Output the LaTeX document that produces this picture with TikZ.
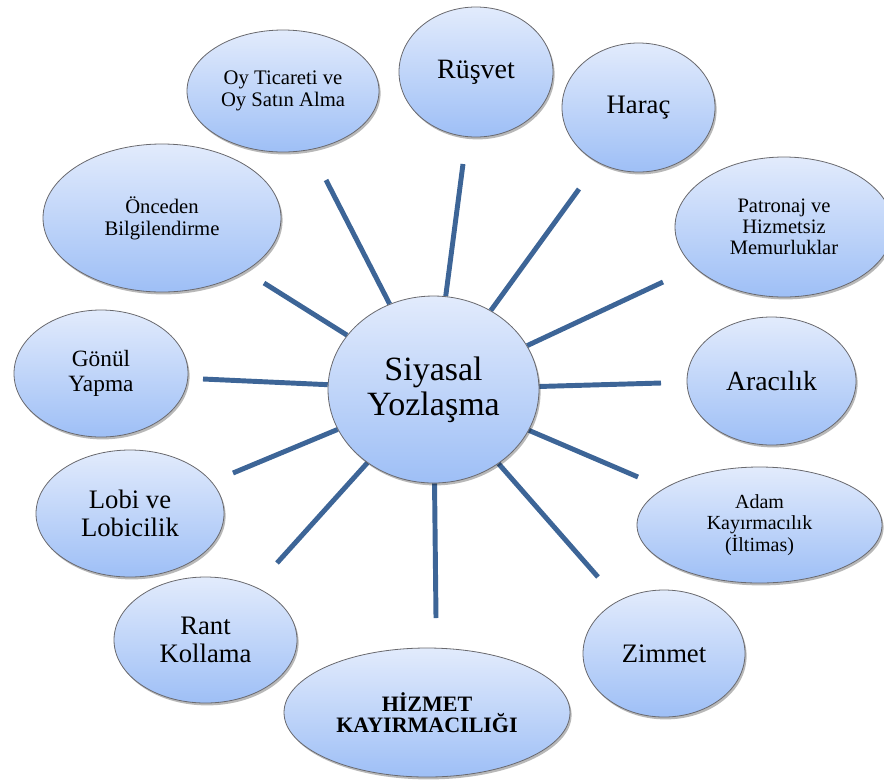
\documentclass[tikz,border=0pt]{standalone}
\usepackage{fontspec}
\setmainfont{Liberation Serif}
\usetikzlibrary{shapes.geometric,shadows}

\definecolor{spokeblue}{RGB}{61,101,151}
\definecolor{bubbletop}{RGB}{226,235,252}
\definecolor{bubblebottom}{RGB}{158,191,246}
\definecolor{bubbleedge}{RGB}{105,105,110}

\pgfdeclarelayer{background}
\pgfsetlayers{background,main}

\tikzset{
  bubble/.style={ellipse, draw=bubbleedge, line width=0.6pt,
    top color=bubbletop, bottom color=bubblebottom,
    inner sep=0pt, align=center, text=black,
    drop shadow={shadow xshift=1.2pt, shadow yshift=-1.8pt, opacity=0.28, fill=black}},
  radii/.style 2 args={minimum width={#1*1.5pt}, minimum height={#2*1.5pt}},
  fsz/.style 2 args={font=\fontsize{#1}{#2}\selectfont},
  spoke/.style={draw=spokeblue, line width=3.7pt},
}

\begin{document}
\begin{tikzpicture}[x=0.75pt,y=-0.75pt]
\useasboundingbox (0,0) rectangle (884,783);

% central concept
\node[bubble, radii={105.5}{93.5}, fsz={25.5}{26.5}] (c) at (433.5,389.5) {Siyasal\\Yozlaşma};

% surrounding forms
\node[bubble, radii={96}{61},    fsz={15.5}{16.5}] (oy) at (283,91)      {Oy Ticareti ve\\Oy Satın Alma};
\node[bubble, radii={77}{65},    fsz={21}{22}]     (ru) at (476,72)      {Rüşvet};
\node[bubble, radii={76.5}{64.5},fsz={20}{21}]     (ha) at (638.5,107.5) {Haraç};
\node[bubble, radii={109}{70},   fsz={15.4}{15.75}](pa) at (784,227)     {Patronaj ve\\Hizmetsiz\\Memurluklar};
\node[bubble, radii={84.5}{64},  fsz={20.8}{21}]   (ar) at (771.5,381)   {Aracılık};
\node[bubble, radii={122.5}{58}, fsz={15}{15.4}]   (ad) at (759.5,525)   {Adam\\Kayırmacılık\\(İltimas)};
\node[bubble, radii={81}{63.5},  fsz={20}{21}]     (zi) at (664,653.5)   {Zimmet};
\node[bubble, radii={143}{64.5}, font=\fontsize{16.5}{15.5}\selectfont\bfseries] (hi) at (427,712.5) {HİZMET\\KAYIRMACILIĞI};
\node[bubble, radii={91.5}{63},  fsz={20}{21}]     (ra) at (205.5,640)   {Rant\\Kollama};
\node[bubble, radii={94}{63.5},  fsz={20}{21}]     (lo) at (130,513.5)   {Lobi ve\\Lobicilik};
\node[bubble, radii={87}{63.5},  fsz={17.5}{18.5}] (go) at (101,373.5)   {Gönül\\Yapma};
\node[bubble, radii={119}{74},   fsz={15.5}{16.5}] (on) at (162,218)     {Önceden\\Bilgilendirme};

% free outer ends of the spokes
\coordinate (eoy) at (326,180);
\coordinate (eru) at (463,164);
\coordinate (eha) at (579,189);
\coordinate (epa) at (663,282);
\coordinate (ear) at (661,383);
\coordinate (ead) at (638,477);
\coordinate (ezi) at (598,577);
\coordinate (ehi) at (436,618);
\coordinate (era) at (277,563);
\coordinate (elo) at (233,473);
\coordinate (ego) at (203,379);
\coordinate (eon) at (264,283);

\begin{pgfonlayer}{background}
\foreach \e in {eoy,eru,eha,epa,ear,ead,ezi,ehi,era,elo,ego,eon}
  \draw[spoke] (c) -- (\e);
\end{pgfonlayer}
\end{tikzpicture}
\end{document}
